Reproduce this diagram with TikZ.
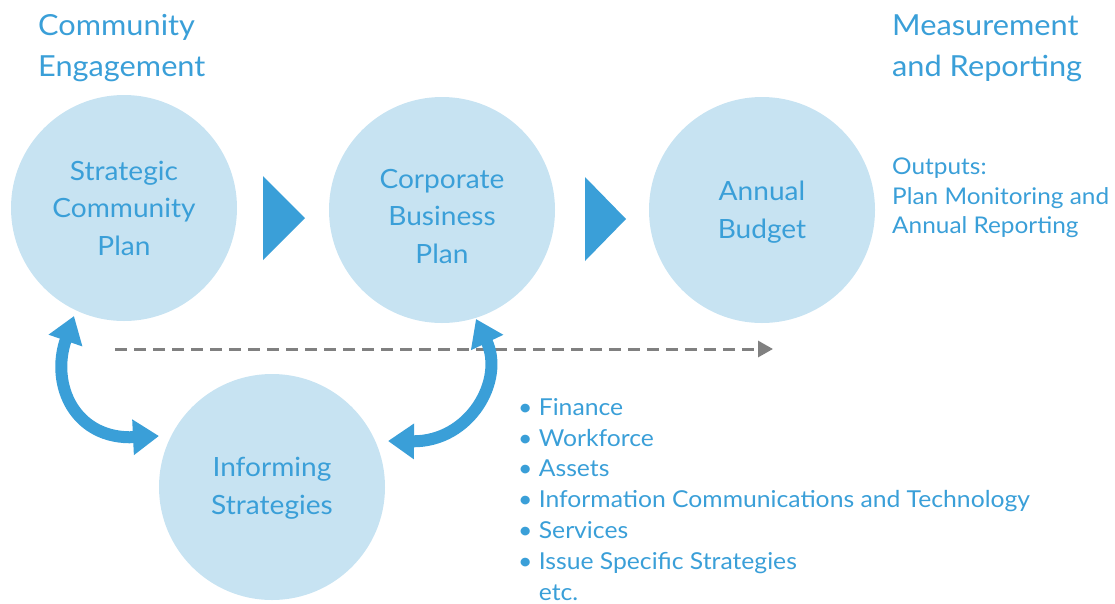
\documentclass[tikz,border=0pt]{standalone}
\usepackage{fontspec}
\setmainfont{Lato}[FakeStretch=1.06]
\usetikzlibrary{arrows.meta}
\definecolor{cfill}{HTML}{C7E3F2}
\definecolor{cblue}{HTML}{3A9FD8}
\definecolor{cgray}{HTML}{808080}
\tikzset{
  bubble/.style={circle, fill=cfill, minimum size=226pt, inner sep=0pt},
  bubtext/.style={text=cblue, font=\fontsize{26.5}{37.5}\selectfont, align=center},
  title/.style={text=cblue, font=\fontsize{29}{41}\selectfont, align=left, anchor=north west, inner sep=0pt},
  small/.style={text=cblue, font=\fontsize{23}{29.5}\selectfont, align=left, anchor=north west, inner sep=0pt},
  listtext/.style={text=cblue, font=\fontsize{23.3}{30.8}\selectfont, align=left, anchor=north west, inner sep=0pt},
  chev/.style={fill=cblue},
  twoway/.style={draw=cblue, line width=12pt, {Triangle[width=34pt,length=26pt]}-{Triangle[width=34pt,length=26pt]}},
  dashline/.style={draw=cgray, line width=3pt, dash pattern=on 12pt off 7pt, -{Triangle[width=16pt,length=15pt]}},
}
\begin{document}
\begin{tikzpicture}[x=1pt,y=-1pt]
\useasboundingbox (0,0) rectangle (1115,603);
\node[bubble] (scp) at (124,208) {};
\node[bubble] (cbp) at (442,210) {};
\node[bubble] (ab) at (762,210) {};
\node[bubble] (is) at (272,487) {};
\node[bubtext] at (124,208) {Strategic\\Community\\Plan};
\node[bubtext] at (442,216) {Corporate\\Business\\Plan};
\node[bubtext] at (762,212) {Annual\\Budget};
\node[bubtext] at (272,488) {Informing\\Strategies};
\fill[chev] (263,176) -- (305,218) -- (263,260) -- cycle;
\fill[chev] (585,177) -- (626,219) -- (585,261) -- cycle;
\coordinate (d1) at (115,349);
\coordinate (d2) at (773,349);
\draw[dashline] (d1) -- (d2);
\coordinate (l1) at (74,316);
\coordinate (l2) at (159,436);
\draw[twoway] (l1) .. controls (50,385) and (75,440) .. (l2);
\coordinate (r1) at (476,319);
\coordinate (r2) at (388,441);
\draw[twoway] (r1) .. controls (505,380) and (470,442) .. (r2);
\node[title] (ce) at (38,14) {Community\\Engagement};
\node[title] (mr) at (892,15) {Measurement\\and Reporting};
\node[small] (out) at (892,158) {Outputs:\\Plan Monitoring and\\Annual Reporting};
\node[listtext] (list) at (518,398) {\textbullet\ Finance\\\textbullet\ Workforce\\\textbullet\ Assets\\\textbullet\ Information Communications and Technology\\\textbullet\ Services\\\textbullet\ Issue Specific Strategies\\\phantom{\textbullet\ }etc.};
\end{tikzpicture}
\end{document}
